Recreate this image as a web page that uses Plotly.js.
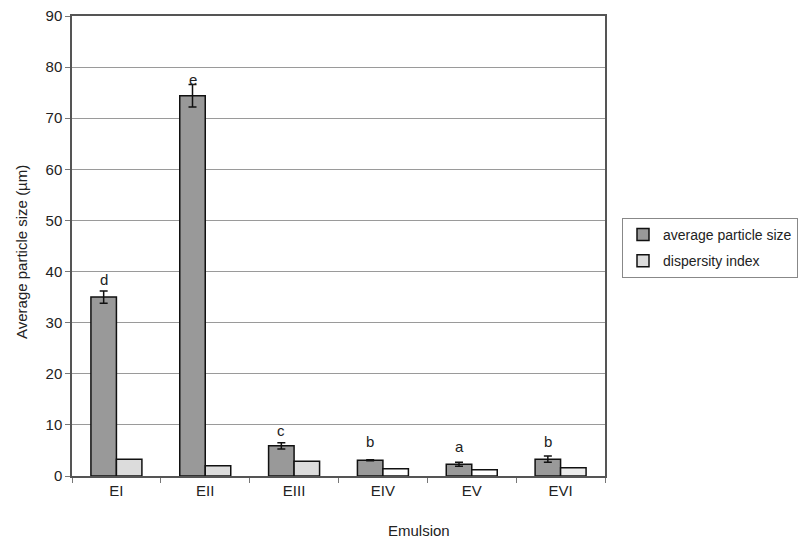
<!DOCTYPE html>
<html><head><meta charset="utf-8">
<script src="https://cdn.plot.ly/plotly-3.0.1.min.js"></script>
<style>html,body{margin:0;padding:0;background:#fff;}#chart{width:802px;height:543px;}</style>
</head><body><div id="chart"></div>
<script>
const categories = ["EI","EII","EIII","EIV","EV","EVI"];
const avgSize = [35.0, 74.4, 5.9, 3.1, 2.3, 3.3];
const avgErr = [1.2, 2.2, 0.6, 0.1, 0.4, 0.6];
const dispersity = [3.3, 2.0, 2.9, 1.4, 1.2, 1.6];
const letters = ["d","e","c","b","a","b"];
const letterY = [38.4, 77.6, 9.0, 6.7, 5.7, 6.7];
const yTicks = [0,10,20,30,40,50,60,70,80,90];

const dispColors = ["#dcdcdc","#dcdcdc","#dcdcdc","#ffffff","#ffffff","#ececec"];
const FONT = "Liberation Sans, Arial, sans-serif";

const traces = [
  {type:"bar", name:"average particle size", x:categories, y:avgSize, legendgroup:"g1",
   marker:{color:"#999999", line:{color:"#111", width:1.5}},
   error_y:{type:"data", array:avgErr, visible:true, color:"#111", thickness:1.5, width:4}},
  {type:"bar", name:"dispersity index", x:categories, y:dispersity, legendgroup:"g2",
   marker:{color:dispColors, line:{color:"#111", width:1.5}}}
];

const L = 72, R = 605, T = 16, B = 476;
const layout = {
  width:802, height:543,
  margin:{l:L, r:802-R, t:T, b:543-B, autoexpand:false},
  paper_bgcolor:"#fff", plot_bgcolor:"#fff",
  barmode:"group", bargap:0.426, bargroupgap:0,
  showlegend:true,
  legend:{x:(622-L)/(R-L), xanchor:"left", y:(B-218)/(B-T), yanchor:"top",
    bordercolor:"#888", borderwidth:1, traceorder:"grouped", tracegroupgap:5,
    font:{family:FONT, size:14, color:"#222"}, itemwidth:30},
  xaxis:{type:"category", tickson:"boundaries", ticks:"outside", ticklen:5, tickcolor:"#777",
    showline:true, linecolor:"#555", linewidth:1.5, mirror:true, showgrid:false,
    tickfont:{family:FONT, size:15, color:"#222"}},
  yaxis:{range:[0,90], tickvals:yTicks, ticks:"outside", ticklen:5, tickcolor:"#777",
    showline:true, linecolor:"#555", linewidth:1.5, mirror:true,
    showgrid:true, gridcolor:"#9a9a9a", gridwidth:1.2, zeroline:false,
    tickfont:{family:FONT, size:15, color:"#222"}},
  annotations:[]
};
letters.forEach((t,i)=>layout.annotations.push({x:i-0.1435, y:letterY[i], xref:"x", yref:"y", text:t,
  showarrow:false, font:{family:FONT, size:15, color:"#222"}}));
layout.annotations.push({x:(419-L)/(R-L), y:-(530-B)/(B-T), xref:"paper", yref:"paper", yanchor:"middle",
  text:"Emulsion", showarrow:false, font:{family:FONT, size:15, color:"#222"}});
layout.annotations.push({x:(22-L)/(R-L), y:(B-252)/(B-T), xref:"paper", yref:"paper",
  xanchor:"center", yanchor:"middle",
  text:"Average particle size (µm)", textangle:-90, showarrow:false,
  font:{family:FONT, size:15, color:"#222"}});

Plotly.newPlot("chart", traces, layout, {displayModeBar:false});
</script></body></html>
